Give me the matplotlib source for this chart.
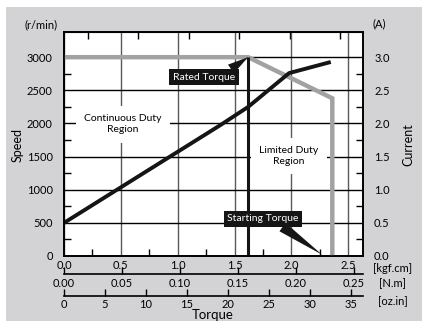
import numpy as np
import matplotlib
matplotlib.use('Agg')
import matplotlib.pyplot as plt
from matplotlib.patches import Rectangle
from matplotlib.ticker import FixedLocator

plt.rcParams['font.family'] = ['Lato', 'DejaVu Sans']

# torque in kgf.cm
speed_torque = [0.0, 1.62, 2.36, 2.36]
speed_rpm = [3000, 3000, 2380, 0]
current_torque = [0.0, 1.38, 1.62, 1.98, 2.33]
current_amp = [0.5, 1.98, 2.25, 2.76, 2.92]
rated_torque = 1.62
starting_torque = 2.27

kgf_ticks = [0.0, 0.5, 1.0, 1.5, 2.0, 2.5]
nm_ticks = [0.00, 0.05, 0.10, 0.15, 0.20, 0.25]
ozin_ticks = [0, 5, 10, 15, 20, 25, 30, 35]
speed_ticks = [0, 500, 1000, 1500, 2000, 2500, 3000]
current_ticks = [0.0, 0.5, 1.0, 1.5, 2.0, 2.5, 3.0]

KGF_TO_NM = 0.0980665
KGF_TO_OZIN = 13.887

BG = '#d3d3d5'
GRAY = '#a2a2a2'

fig = plt.figure(figsize=(4.22, 3.25), dpi=100, facecolor='white')
fig.patches.append(Rectangle((6 / 422, 4 / 325), 416 / 422, 314 / 325, transform=fig.transFigure,
                             facecolor=BG, edgecolor='none', zorder=-10))

ax = fig.add_axes([64 / 422, 69 / 325, 299 / 422, 224 / 325])
ax.set_xlim(0, 2.63)
ax.set_ylim(0, 3380)

# grid
ax.set_xticks(kgf_ticks)
ax.set_xticklabels(['%.1f' % t for t in kgf_ticks])
ax.set_yticks(speed_ticks)
ax.xaxis.set_minor_locator(FixedLocator(np.arange(0.25, 2.6, 0.5)))
ax.yaxis.set_minor_locator(FixedLocator(np.arange(250, 3000, 500)))
ax.grid(axis='x', which='major', color='#5a5a5a', lw=1.0, zorder=0.5)
ax.grid(axis='y', which='major', color='black', lw=1.0, zorder=0.5)
ax.set_axisbelow(True)
ax.tick_params(which='major', length=0, labelsize=8, pad=8)
ax.tick_params(axis='x', which='major', pad=3)
ax.tick_params(which='minor', direction='in', length=5, width=1, color='black')
for s in ax.spines.values():
    s.set_linewidth(1.2)

# curves
ax.plot(speed_torque, speed_rpm, color=GRAY, lw=3.2, solid_joinstyle='miter', zorder=3)
ax.plot(current_torque, np.array(current_amp) * 1000, color='#151515', lw=2.8, zorder=3)
ax.vlines(rated_torque, 0, speed_rpm[0], color='#151515', lw=2.2, zorder=3)

ax.text(0.52, 1990, 'Continuous Duty\nRegion', ha='center', va='center', fontsize=7.5,
        linespacing=1.3, zorder=2,
        bbox=dict(boxstyle='square,pad=0.8', fc='white', ec='none'))
ax.text(1.98, 1508, 'Limited Duty\nRegion', ha='center', va='center', fontsize=7.5,
        linespacing=1.3, zorder=2,
        bbox=dict(boxstyle='square,pad=0.8', fc='white', ec='none'))

ax.annotate('Rated Torque', xy=(rated_torque, speed_rpm[0]), xytext=(1.23, 2700),
            ha='center', va='center', color='white', fontsize=7.5, zorder=6,
            bbox=dict(boxstyle='square,pad=0.35', fc='#151515', ec='none'),
            arrowprops=dict(arrowstyle='wedge,tail_width=1.0', fc='#151515', ec='none',
                            relpos=(0.85, 1.0), shrinkA=0, shrinkB=0))
ax.annotate('Starting Torque', xy=(starting_torque, 20), xytext=(1.75, 560),
            ha='center', va='center', color='white', fontsize=7.5, zorder=6,
            bbox=dict(boxstyle='square,pad=0.35', fc='#151515', ec='none'),
            arrowprops=dict(arrowstyle='wedge,tail_width=1.0', fc='#151515', ec='none',
                            relpos=(0.7, 0.0), shrinkA=0, shrinkB=0))

# right axis (current)
ax2 = ax.twinx()
ax2.set_ylim(0, 3.38)
ax2.set_yticks(current_ticks)
ax2.set_yticklabels(['%.1f' % t for t in current_ticks])
ax2.yaxis.set_minor_locator(FixedLocator(np.arange(0.25, 3.0, 0.5)))
ax2.tick_params(which='major', length=0, labelsize=8, pad=8)
ax2.tick_params(which='minor', direction='in', length=5, width=1, color='black')
for s in ax2.spines.values():
    s.set_linewidth(1.2)

# top ticks
top = ax.secondary_xaxis('top')
top.set_xticks(np.arange(0.21, 2.5, 0.444))
top.tick_params(direction='in', length=5, width=1, labeltop=False)

# extra torque scales
nm_ax = ax.secondary_xaxis(-0.08, functions=(lambda x: x * KGF_TO_NM, lambda x: x / KGF_TO_NM))
nm_ax.set_xticks(nm_ticks)
nm_ax.set_xticklabels(['%.2f' % t for t in nm_ticks])
nm_ax.tick_params(direction='in', length=5, width=1, labelsize=8, pad=3)
nm_ax.spines['bottom'].set_linewidth(1.2)

oz_ax = ax.secondary_xaxis(-0.18, functions=(lambda x: x * KGF_TO_OZIN, lambda x: x / KGF_TO_OZIN))
oz_ax.set_xticks(ozin_ticks)
oz_ax.tick_params(direction='in', length=5, width=1, labelsize=8, pad=2)
oz_ax.spines['bottom'].set_linewidth(1.2)

# labels
fig.text(41 / 422, 1 - 25 / 325, '(r/min)', ha='center', va='center', fontsize=8)
fig.text(379 / 422, 1 - 24 / 325, '(A)', ha='center', va='center', fontsize=8)
fig.text(18 / 422, 1 - 145 / 325, 'Speed', ha='center', va='center', rotation=90, fontsize=9)
fig.text(408 / 422, 1 - 145 / 325, 'Current', ha='center', va='center', rotation=90, fontsize=9)
fig.text(393 / 422, 1 - 268 / 325, '[kgf.cm]', ha='center', va='center', fontsize=8)
fig.text(393 / 422, 1 - 284 / 325, '[N.m]', ha='center', va='center', fontsize=8)
fig.text(393 / 422, 1 - 301 / 325, '[oz.in]', ha='center', va='center', fontsize=8)
fig.text(213 / 422, 1 - 315 / 325, 'Torque', ha='center', va='center', fontsize=9.5)

fig.savefig('out.png', dpi=100, facecolor=fig.get_facecolor())
